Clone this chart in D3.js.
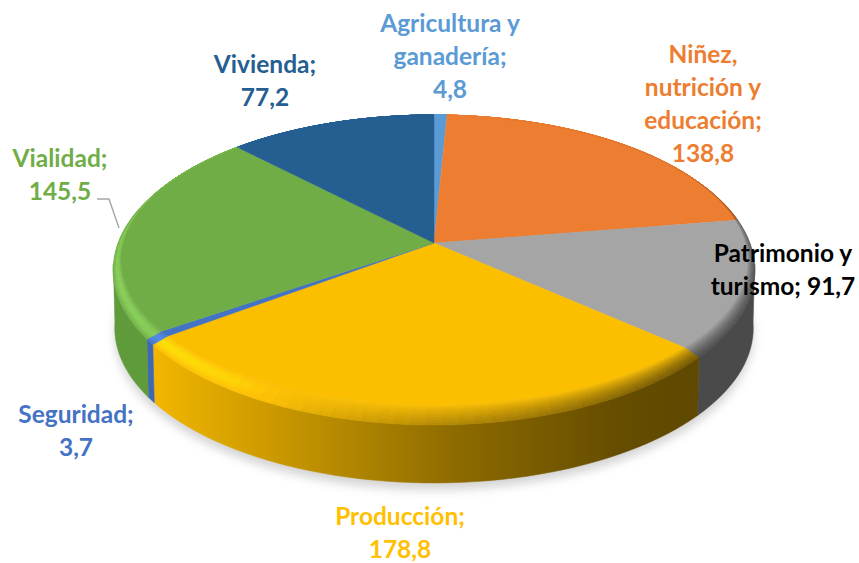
<!DOCTYPE html>
<html>
<head>
    <title>Distribución por sector</title>
    <script src="https://d3js.org/d3.v7.min.js"></script>
    <style>
        html, body { margin: 0; background: #fff; }
        svg { display: block; }
        .label { font-family: Lato, "Open Sans", sans-serif; font-weight: 700; font-size: 24.5px; text-anchor: middle; }
    </style>
</head>
<body>
    <svg width="859" height="563"></svg>
    <script>
        // data, in pie order, clockwise from 12 o'clock
        var categories = ["Agricultura y ganadería", "Niñez, nutrición y educación", "Patrimonio y turismo", "Producción", "Seguridad", "Vialidad", "Vivienda"];
        var values = [4.8, 138.8, 91.7, 178.8, 3.7, 145.5, 77.2];
        var labelLines = [
            ["Agricultura y", "ganadería;", "%"],
            ["Niñez,", "nutrición y", "educación;", "%"],
            ["Patrimonio y", "turismo; %"],
            ["Producción;", "%"],
            ["Seguridad;", "%"],
            ["Vialidad;", "%"],
            ["Vivienda;", "%"]
        ];

        // styles and layout
        var colors = ["#5b9bd5", "#ed7d31", "#a5a5a5", "#fcbf00", "#4472c4", "#70ad47", "#255e91"];
        var textColors = ["#5b9bd5", "#ed7d31", "#000000", "#ffc000", "#4472c4", "#70ad47", "#255e91"];
        var sideColors = ["#5b9bd5", "#ed7d31", "#4a4a4a", "url(#sideYellow)", "#3f68b4", "#5f9a3b", "#255e91"];
        var labelX = [450, 703, 783, 400, 76, 60, 265];
        var labelY = [32, 63, 262, 525, 423, 167, 73];
        var lineStep = 33;

        var svg = d3.select("svg");
        var cx = 434, cy = 243, depth = 58;

        // perspective of the pie: flat top face (t=0) to outer rim (t=1)
        var flat = {A: 311, B: 143, p: 0.117};
        var rim = {A: 316, B: 150.3, p: 0.174};

        function project(theta, t, dy, shrink) {
            var A = (flat.A + (rim.A - flat.A) * t) * (shrink || 1),
                B = flat.B + (rim.B - flat.B) * t,
                p = flat.p + (rim.p - flat.p) * t,
                u = Math.sin(theta),
                v = -Math.cos(theta),
                w = 1 - p * v;
            return [cx + A * u / w, cy + B * v / w + (dy || 0)];
        }

        var rad = Math.PI / 180;
        var arcs = d3.pie().sort(null).value(function(d) { return d; })(values);
        var line = d3.line();

        function thetas(a0, a1, stepDeg) {
            var n = Math.max(1, Math.ceil((a1 - a0) / (stepDeg * rad)));
            return d3.range(n + 1).map(function(i) { return a0 + (a1 - a0) * i / n; });
        }

        var defs = svg.append("defs");
        defs.append("filter").attr("id", "blur")
            .attr("x", "-10%").attr("y", "-10%").attr("width", "120%").attr("height", "130%")
            .append("feGaussianBlur").attr("stdDeviation", 5);
        var grad = defs.append("linearGradient").attr("id", "sideYellow")
            .attr("gradientUnits", "userSpaceOnUse")
            .attr("x1", 155).attr("x2", 695).attr("y1", 0).attr("y2", 0);
        [[0, "#f2b600"], [0.25, "#c59500"], [0.55, "#8f6c00"], [0.85, "#664d00"], [1, "#5f4800"]].forEach(function(s) {
            grad.append("stop").attr("offset", s[0]).attr("stop-color", s[1]);
        });

        // soft shadow under the pie
        var outline = thetas(0, 2 * Math.PI, 3).map(function(a) { return project(a, 1, depth + 7, 0.995); });
        svg.append("path")
            .attr("d", line(outline) + "Z")
            .attr("fill", "#b8b8b8")
            .attr("opacity", 0.6)
            .attr("filter", "url(#blur)");

        // outer wall, only the part facing the viewer
        var frontFrom = 98 * rad, frontTo = 262 * rad;
        svg.append("g").selectAll("path")
            .data(arcs.filter(function(d) { return d.endAngle > frontFrom && d.startAngle < frontTo; }))
            .enter().append("path")
            .attr("d", function(d) {
                var ts = thetas(Math.max(d.startAngle, frontFrom), Math.min(d.endAngle, frontTo), 2);
                var upper = ts.map(function(a) { return project(a, 1); });
                var lower = ts.slice().reverse().map(function(a) { return project(a, 1, depth, 0.995); });
                return line(upper.concat(lower)) + "Z";
            })
            .attr("fill", function(d) { return sideColors[d.index]; })
            .attr("stroke", function(d) { return sideColors[d.index]; })
            .attr("stroke-width", 0.5);

        // flat top face of each slice
        svg.append("g").selectAll("path")
            .data(arcs)
            .enter().append("path")
            .attr("d", function(d) {
                var pts = thetas(d.startAngle, d.endAngle, 2).map(function(a) { return project(a, 0); });
                return line([[cx, cy]].concat(pts)) + "Z";
            })
            .attr("fill", function(d) { return colors[d.index]; })
            .attr("stroke", function(d) { return colors[d.index]; })
            .attr("stroke-width", 0.4);

        // bevel: small cells, lit on the front left and dark on the right
        var shade = d3.scaleLinear()
            .domain([0, 60, 100, 135, 180, 215, 240, 300, 360])
            .range([0, -0.2, -2, -2.2, -0.9, 0.3, 0.5, 0.35, 0]);
        var bandCount = 10;
        var bands = d3.range(bandCount);
        var cells = [];
        arcs.forEach(function(d) {
            var ts = thetas(d.startAngle, d.endAngle, 2.5);
            d3.pairs(ts).forEach(function(pair) {
                bands.forEach(function(b) {
                    cells.push({index: d.index, a0: pair[0], a1: pair[1], t0: b / bandCount, t1: (b + 1) / bandCount});
                });
            });
        });
        svg.append("g").selectAll("path")
            .data(cells)
            .enter().append("path")
            .attr("d", function(c) {
                return line([project(c.a0, c.t0), project(c.a1, c.t0), project(c.a1, c.t1), project(c.a0, c.t1)]) + "Z";
            })
            .each(function(c) {
                var mid = (c.a0 + c.a1) / 2 / rad,
                    k = shade(mid),
                    t = (c.t0 + c.t1) / 2,
                    ramp = k > 0 ? Math.sin(Math.PI * t) : t,
                    col = d3.rgb(colors[c.index]).brighter(k * ramp) + "";
                d3.select(this).attr("fill", col).attr("stroke", col).attr("stroke-width", 0.5);
            });

        // leader line for Vialidad
        svg.append("path")
            .attr("d", line([[97, 199], [109, 199], [119, 228]]))
            .attr("fill", "none")
            .attr("stroke", "#a6a6a6")
            .attr("stroke-width", 1.4);

        // labels
        var fmt = d3.formatLocale({decimal: ",", thousands: ".", grouping: [3], currency: ["", ""]}).format(".1f");
        labelLines.forEach(function(lines, i) {
            var text = svg.append("text")
                .attr("class", "label")
                .attr("fill", textColors[i])
                .attr("aria-label", categories[i]);
            lines.forEach(function(l, j) {
                text.append("tspan")
                    .attr("x", labelX[i])
                    .attr("y", labelY[i] + j * lineStep)
                    .text(l.replace("%", fmt(values[i])));
            });
        });
    </script>
</body>
</html>
